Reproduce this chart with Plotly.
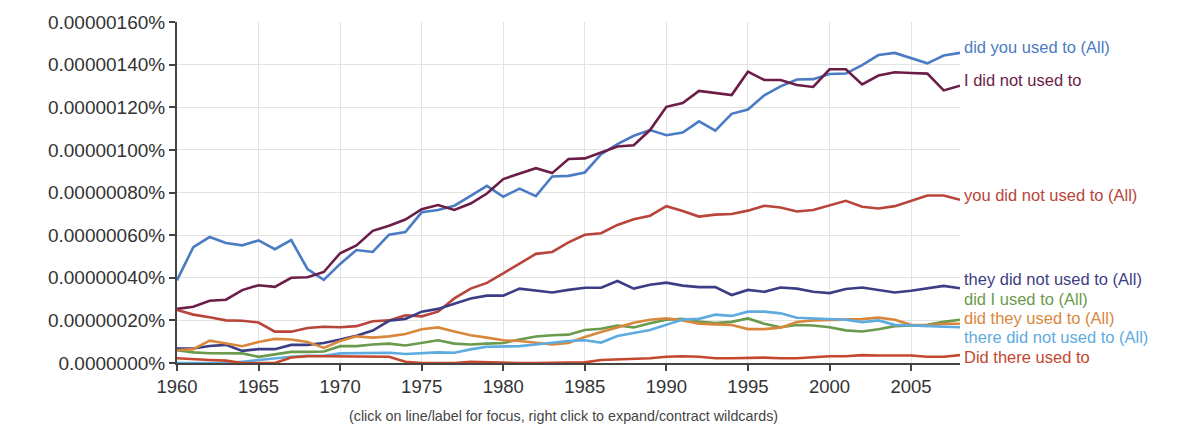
import plotly.graph_objects as go

years = list(range(1960, 2009))

# values in units of 0.00000001 %
did_you_used_to = [38.8, 54.4, 59.1, 56.3, 55.2, 57.5, 53.4, 57.7, 44.1, 39.0,
                   46.5, 53.0, 52.1, 60.2, 61.4, 70.7, 71.8, 73.8, 78.4, 83.1,
                   78.0, 81.8, 78.3, 87.5, 87.8, 89.4, 98.0, 102.7, 106.6, 109.3,
                   106.9, 108.1, 113.4, 109.0, 116.9, 118.9, 125.6, 129.8, 133.0, 133.2,
                   135.6, 135.8, 139.8, 144.5, 145.5, 142.9, 140.6, 144.3, 145.5]
i_did_not_used_to = [25.4, 26.4, 29.2, 29.7, 34.2, 36.5, 35.7, 40.0, 40.2, 42.7,
                     51.5, 55.2, 62.0, 64.4, 67.3, 72.2, 74.1, 71.8, 74.8, 79.5,
                     86.3, 89.0, 91.4, 89.1, 95.7, 96.0, 98.8, 101.6, 102.2, 109.3,
                     120.2, 122.0, 127.7, 126.7, 125.7, 136.7, 132.8, 132.8, 130.4, 129.5,
                     137.8, 137.8, 130.7, 134.9, 136.4, 136.1, 135.8, 127.9, 130.1]
you_did_not_used_to = [24.9, 22.7, 21.5, 20.0, 19.8, 19.0, 14.7, 14.7, 16.4, 17.0,
                       16.8, 17.3, 19.6, 20.0, 22.4, 21.9, 24.1, 30.3, 34.9, 37.6,
                       42.1, 46.7, 51.2, 52.1, 56.6, 60.2, 60.9, 64.8, 67.4, 69.1,
                       73.6, 71.3, 68.7, 69.6, 69.9, 71.5, 73.8, 73.0, 71.1, 71.8,
                       74.1, 76.1, 73.3, 72.5, 73.6, 76.0, 78.6, 78.6, 76.6]
they_did_not_used_to = [6.8, 6.8, 8.0, 8.5, 5.7, 6.5, 6.5, 8.5, 8.5, 9.4,
                        11.0, 12.8, 15.2, 19.8, 20.7, 24.1, 25.4, 27.7, 30.3, 31.6,
                        31.6, 34.9, 33.9, 33.1, 34.3, 35.3, 35.3, 38.5, 34.9, 36.7,
                        37.7, 36.3, 35.6, 35.6, 31.9, 34.3, 33.4, 35.4, 34.9, 33.4,
                        32.8, 34.7, 35.4, 34.3, 33.1, 33.9, 34.9, 36.2, 35.1]
did_i_used_to = [6.0, 5.0, 4.6, 4.5, 4.5, 2.9, 4.0, 5.2, 5.2, 5.4,
                 7.9, 7.9, 8.7, 9.1, 8.2, 9.6, 10.7, 9.1, 8.7, 9.1,
                 9.4, 11.0, 12.4, 13.0, 13.3, 15.5, 16.1, 17.6, 16.7, 18.7,
                 20.3, 20.7, 19.5, 18.7, 19.3, 20.9, 18.4, 16.8, 17.8, 17.6,
                 16.8, 15.3, 14.8, 15.8, 17.3, 17.6, 17.9, 19.3, 20.3]
did_they_used_to = [6.0, 6.5, 10.5, 9.1, 7.9, 9.9, 11.3, 11.0, 9.9, 7.1,
                    10.3, 12.5, 11.9, 12.5, 13.6, 15.8, 16.7, 14.8, 13.0, 11.9,
                    10.7, 10.3, 9.6, 8.7, 9.4, 12.2, 14.5, 16.8, 18.9, 20.3,
                    21.0, 20.0, 18.4, 18.1, 17.8, 15.9, 15.9, 16.6, 19.2, 20.0,
                    20.3, 20.3, 20.6, 21.3, 20.3, 17.9, 17.6, 18.4, 18.4]
there_did_not_used_to = [0.0, 0.0, 0.0, 0.0, 0.6, 1.4, 1.9, 2.9, 3.4, 3.4,
                         4.5, 4.5, 4.5, 4.8, 4.2, 4.5, 5.0, 4.8, 6.4, 7.6,
                         7.6, 7.9, 8.7, 9.6, 10.3, 10.7, 9.6, 12.7, 14.2, 15.5,
                         17.9, 20.4, 20.7, 22.7, 22.1, 24.1, 24.1, 23.3, 21.2, 21.0,
                         20.7, 20.3, 19.2, 20.0, 17.9, 17.6, 17.3, 17.2, 16.8]
did_there_used_to = [2.2, 1.7, 1.4, 1.1, 0.0, 0.0, 0.0, 2.6, 3.2, 3.2,
                     3.2, 3.2, 3.2, 2.9, 0.6, 0.0, 0.0, 0.0, 0.6, 0.3,
                     0.0, 0.0, 0.0, 0.0, 0.0, 0.3, 1.4, 1.7, 1.9, 2.2,
                     2.9, 3.2, 2.9, 2.2, 2.2, 2.5, 2.5, 2.2, 2.2, 2.7,
                     3.2, 3.2, 3.7, 3.5, 3.4, 3.5, 2.9, 2.9, 3.7]

series_names = ["did you used to (All)", "I did not used to", "you did not used to (All)",
                "they did not used to (All)", "did I used to (All)", "did they used to (All)",
                "there did not used to (All)", "Did there used to"]
series_values = [did_you_used_to, i_did_not_used_to, you_did_not_used_to,
                 they_did_not_used_to, did_i_used_to, did_they_used_to,
                 there_did_not_used_to, did_there_used_to]

y_tick_values = [0, 20, 40, 60, 80, 100, 120, 140, 160]
y_tick_labels = ["0.0000000%", "0.00000020%", "0.00000040%", "0.00000060%", "0.00000080%",
                 "0.00000100%", "0.00000120%", "0.00000140%", "0.00000160%"]

# styles / label placement (layout only)
colors = ["#4a7bc4", "#6b1d47", "#b8443a", "#3c3e85", "#6a9a4c", "#d9873d", "#5eabe0", "#c4472e"]
label_y = [148.2, 133.0, 78.6, 39.3, 30.2, 21.0, 12.0, 2.8]

fig = go.Figure()
for name, vals, col in zip(series_names, series_values, colors):
    fig.add_trace(go.Scatter(x=years, y=vals, mode="lines", name=name,
                             line=dict(color=col, width=2.6), hoverinfo="skip"))

for name, ly, col in zip(series_names, label_y, colors):
    fig.add_annotation(x=2008, y=ly, xref="x", yref="y", text=name, showarrow=False,
                       xanchor="left", yanchor="middle", xshift=2,
                       font=dict(size=16.5, color=col, family="Arial, Liberation Sans"))

fig.add_annotation(x=0.5, y=-0.155, xref="paper", yref="paper",
                   text="(click on line/label for focus, right click to expand/contract wildcards)",
                   showarrow=False, xanchor="center", yanchor="middle", xshift=-5,
                   font=dict(size=14.3, color="#444", family="Arial, Liberation Sans"))

fig.update_layout(
    width=1200, height=429,
    margin=dict(l=177, r=240, t=18, b=66),
    plot_bgcolor="white", paper_bgcolor="white",
    showlegend=False,
    font=dict(family="Arial, Liberation Sans", color="#333"),
)
fig.update_xaxes(range=[1960, 2008], tick0=1960, dtick=5, showgrid=True, gridcolor="#e3e3e3",
                 gridwidth=1, showline=True, linecolor="#444", linewidth=2, ticks="outside",
                 ticklen=6, tickwidth=2, tickcolor="#444", tickfont=dict(size=18.5, color="#333"),
                 zeroline=False)
fig.update_yaxes(range=[0, 160], tickvals=y_tick_values, ticktext=y_tick_labels, showgrid=True,
                 gridcolor="#e3e3e3", gridwidth=1, showline=True, linecolor="#444", linewidth=2,
                 ticks="outside", ticklen=6, tickwidth=2, tickcolor="#444",
                 tickfont=dict(size=19, color="#333"), zeroline=False)

fig.write_html("out.html")
